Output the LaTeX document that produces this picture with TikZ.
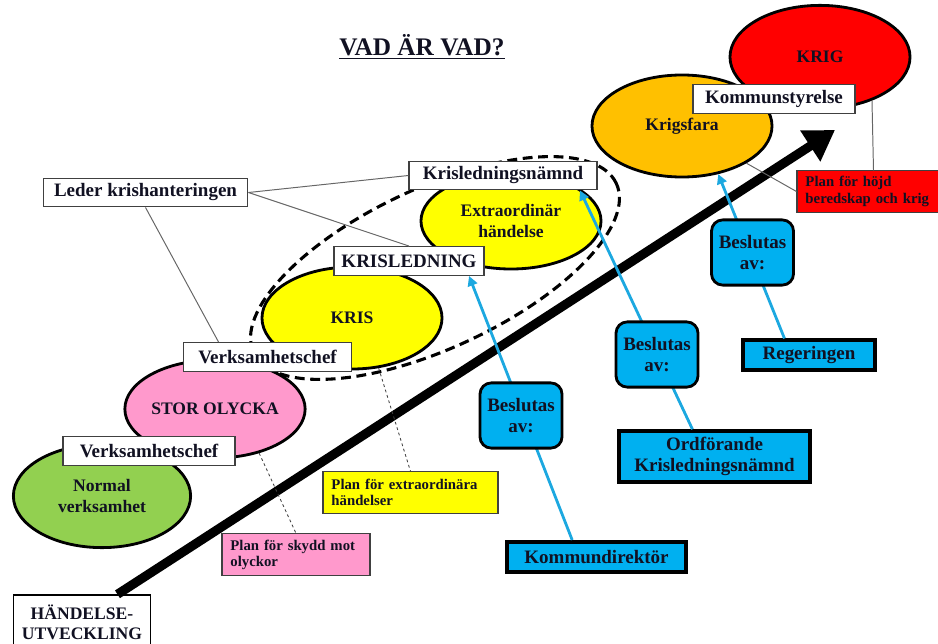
\documentclass[tikz,border=0pt]{standalone}
\usepackage{fontspec}
\setmainfont{Liberation Serif}
\usetikzlibrary{shapes.geometric,arrows.meta}

\definecolor{gron}{HTML}{92D050}
\definecolor{rosa}{HTML}{FF99CC}
\definecolor{gul}{HTML}{FFFF00}
\definecolor{krigsorange}{HTML}{FFC000}
\definecolor{rod}{HTML}{FF0000}
\definecolor{blaa}{HTML}{00B0F0}
\definecolor{pilblaa}{HTML}{1CA8E0}
\definecolor{morktext}{HTML}{111122}

\tikzset{
  fas/.style={ellipse, draw, line width=2pt, minimum width=4.5cm, minimum height=2.5cm,
    inner sep=0pt, align=center, text=morktext,
    font=\fontsize{12.5}{14.5}\selectfont\bfseries},
  etikett/.style={rectangle, draw=black!75, fill=white, line width=0.8pt,
    minimum height=0.72cm, text=morktext, font=\fontsize{13.5}{15}\selectfont\bfseries},
  plan/.style={rectangle, draw=black!75, line width=0.8pt, align=left, inner xsep=6pt,
    minimum height=1.03cm, text=morktext, font=\fontsize{10.5}{11.5}\selectfont\bfseries},
  beslut/.style={rectangle, rounded corners=8pt, draw, line width=2pt, fill=blaa,
    align=center, minimum width=2.05cm, minimum height=1.63cm, text=morktext,
    font=\fontsize{13.5}{14.5}\selectfont\bfseries},
  ansvar/.style={rectangle, draw, line width=2.6pt, fill=blaa, align=center, text=morktext,
    font=\fontsize{13.5}{14.5}\selectfont\bfseries},
  tunn/.style={draw=black!60, line width=0.7pt},
  prickad/.style={draw=black!75, line width=0.6pt, dash pattern=on 2pt off 2pt},
  blapil/.style={draw=pilblaa, line width=2pt, -{Triangle[length=7pt,width=7pt]}},
  storpil/.style={line width=6.5pt, -{Triangle[length=21pt,width=25pt]}},
}

\begin{document}
\begin{tikzpicture}[x=0.025cm, y=-0.025cm]
\useasboundingbox (0,0) rectangle (938,643);
\clip (0,0) rectangle (938,643);

\node[text=morktext, font=\fontsize{18}{20}\selectfont\bfseries] (rubrik) at (422,47) {\underline{VAD ÄR VAD?}};

\node[fas, fill=gron, minimum width=4.43cm, minimum height=2.58cm] (normal) at (102,496) {Normal\\verksamhet};
\node[fas, fill=rosa, minimum height=2.45cm] (olycka) at (215,409) {STOR OLYCKA};
\node[fas, fill=gul, minimum height=2.55cm] (kris) at (352,318) {KRIS};
\node[fas, fill=gul, minimum height=2.4cm] (extra) at (511,221) {Extraordinär\\händelse};
\node[fas, fill=krigsorange, minimum height=2.55cm] (krigsfara) at (682,126) {Krigsfara};
\node[fas, fill=rod, minimum height=2.58cm] (krig) at (820,57) {KRIG};

\node[ellipse, draw, line width=2.2pt, dash pattern=on 7pt off 4pt, minimum width=10cm,
  minimum height=4cm, rotate=25] (krisring) at (435,268) {};

\node[rectangle, draw, fill=white, line width=1pt, minimum width=3.43cm, minimum height=1.35cm,
  align=center, text=morktext, font=\fontsize{12.5}{14}\selectfont\bfseries] (utveckling) at (82,622) {HÄNDELSE-\\UTVECKLING};
\coordinate (pilspets) at (835,130);
\draw[storpil] (utveckling.38) -- (pilspets);

\node[etikett, minimum width=5.12cm] (leder) at (145.5,192.5) {Leder krishanteringen};
\node[etikett, minimum width=4.7cm] (krisnamnd) at (503,175.5) {Krisledningsnämnd};
\node[etikett, minimum width=3.75cm] (krisledning) at (409,261) {KRISLEDNING};
\node[etikett, minimum width=4.22cm] (vchefkris) at (267.5,357) {Verksamhetschef};
\node[etikett, minimum width=4.3cm] (vchefolycka) at (149,451) {Verksamhetschef};
\node[etikett, minimum width=4.05cm] (kommunstyr) at (774,99) {Kommunstyrelse};

\node[plan, fill=rosa, text width=3.28cm] (skyddplan) at (296,554.5) {Plan för skydd mot\\olyckor};
\node[plan, fill=gul, text width=3.95cm] (extraplan) at (410.5,492.5) {Plan för extraordinära\\händelser};
\node[plan, fill=rod, text width=3.4cm] (hojdplan) at (873.5,191.5) {Plan för höjd\\beredskap och krig};

\draw[tunn] (leder.east) -- (krisnamnd.west);
\draw[tunn] (leder.east) -- (krisledning.north);
\draw[tunn] (leder.south) -- (vchefkris.163);
\draw[tunn] (krigsfara.-30) -- (hojdplan.west);
\draw[tunn] (krig.-40) -- (hojdplan.north);
\draw[prickad] (olycka.-45) -- (skyddplan.north);
\draw[prickad] (kris.-62) -- (extraplan.north);

\node[ansvar, minimum width=4.48cm, minimum height=0.76cm] (kommundir) at (596.5,557) {Kommundirektör};
\node[ansvar, minimum width=4.78cm, minimum height=1.27cm] (ordf) at (714.5,456.5) {Ordförande\\Krisledningsnämnd};
\node[ansvar, line width=2.2pt, minimum width=3.3cm, minimum height=0.75cm] (regeringen) at (809,355) {Regeringen};

\draw[blapil] (kommundir.145) -- (krisledning.-14);
\draw[blapil] (ordf.129) -- (krisnamnd.-11);
\draw[blapil] (regeringen.146) -- (krigsfara.-53);

\node[beslut] (beslut1) at (521,415.5) {Beslutas\\av:};
\node[beslut] (beslut2) at (657,354.5) {Beslutas\\av:};
\node[beslut] (beslut3) at (752.5,252.5) {Beslutas\\av:};
\end{tikzpicture}
\end{document}
